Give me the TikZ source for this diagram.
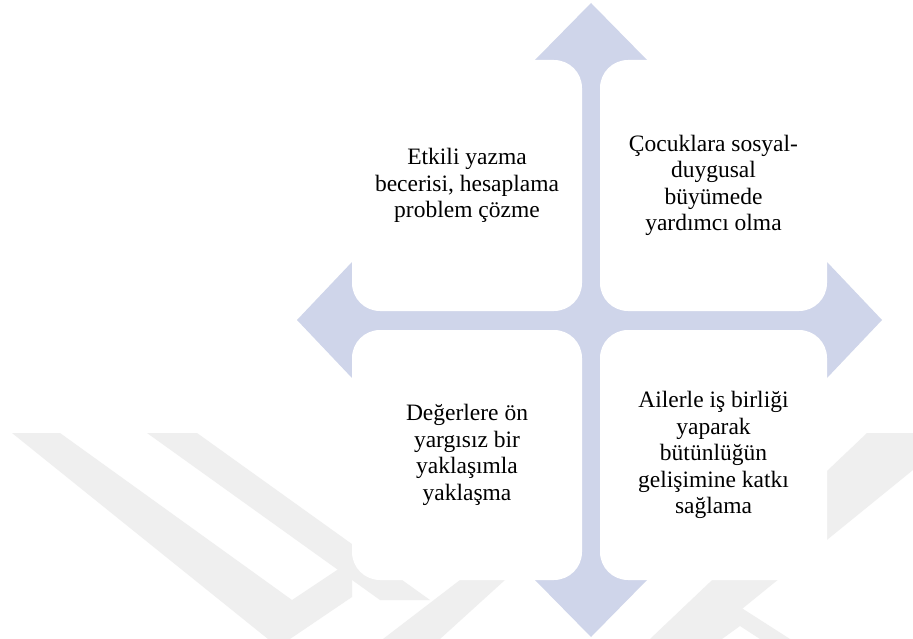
\documentclass[tikz,border=0pt]{standalone}
\usepackage{fontspec}
\setmainfont{Liberation Serif}
\definecolor{arrowblue}{RGB}{207,213,234}
\definecolor{wmgray}{RGB}{239,239,239}
\tikzset{
  quadbox/.style={fill=white, draw=none, rounded corners=28pt, inner sep=0pt, align=center,
    font=\fontsize{23.5}{26.5}\selectfont},
  wm/.style={fill=wmgray, draw=none}
}
\begin{document}
\begin{tikzpicture}[x=1pt,y=-1pt]
\useasboundingbox (0,0) rectangle (913,639);
\fill[white] (0,0) rectangle (913,639);
% watermark (faint)
\fill[wm] (12,433) -- (60,433) -- (292,600) -- (352,560) -- (352,597) -- (290,639) -- (268,639) -- cycle;
\fill[wm] (147,433) -- (197,433) -- (430,600) -- (380,600) -- cycle;
\fill[wm] (383,639) -- (460,580) -- (505,580) -- (440,639) -- cycle;
\fill[wm] (867,433) -- (913,433) -- (913,470) -- (705,639) -- (650,639) -- cycle;
\fill[wm] (700,639) -- (740,607) -- (790,639) -- (760,639) -- (740,626) -- (722,639) -- cycle;
% quad arrow
\fill[arrowblue] (591,3) -- (647,60) -- (636,60) -- (636,275) -- (827,275) -- (827,262)
  -- (882,320) -- (827,378) -- (827,365) -- (636,365) -- (636,580) -- (647,580)
  -- (591,637) -- (535,580) -- (546,580) -- (546,365) -- (352,365) -- (352,378)
  -- (297,320) -- (352,262) -- (352,275) -- (546,275) -- (546,60) -- (535,60) -- cycle;
% boxes
\node[quadbox, minimum width=230pt, minimum height=251pt] (tl) at (467,185.5)
  {Etkili yazma\\becerisi, hesaplama\\problem çözme};
\node[quadbox, minimum width=227pt, minimum height=251pt] (tr) at (713.5,185.5)
  {Çocuklara sosyal-\\duygusal\\büyümede\\yardımcı olma};
\node[quadbox, minimum width=230pt, minimum height=250pt] (bl) at (467,455)
  {Değerlere ön\\yargısız bir\\yaklaşımla\\yaklaşma};
\node[quadbox, minimum width=227pt, minimum height=250pt] (br) at (713.5,455)
  {Ailerle iş birliği\\yaparak\\bütünlüğün\\gelişimine katkı\\sağlama};
\end{tikzpicture}
\end{document}
